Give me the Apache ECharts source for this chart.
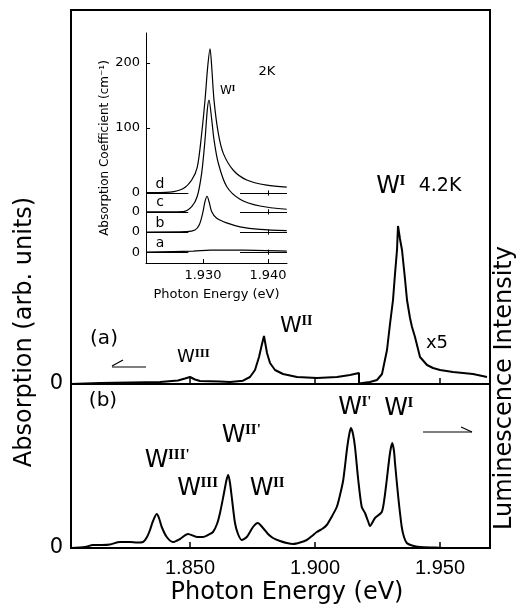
<!DOCTYPE html>
<html><head><meta charset="utf-8">
<script src="https://cdn.jsdelivr.net/npm/echarts@6/dist/echarts.min.js"></script>
<style>html,body{margin:0;padding:0;background:#fff}#c{width:520px;height:608px}</style>
</head><body><div id="c"></div>
<script>
// ---- data ----
// main x ticks
const mainTicks = [1.85, 1.90, 1.95];
// (a) absorption (arb. units), W^I part x5
const absE = [1.8024,1.814,1.826,1.838,1.8452,1.848,1.850,1.852,1.854,1.862,1.866,1.8712,1.874,1.876,1.8776,1.8788,1.8796,1.8808,1.882,1.884,1.8872,1.8928,1.9008,1.9088,1.914,1.9176,
  1.9176,1.922,1.9248,1.9268,1.9288,1.930,1.9312,1.932,1.9328,1.9332,1.934,1.9348,1.936,1.9368,1.938,1.9388,1.940,1.9412,1.942,1.9448,1.9472,1.950,1.9552,1.9592,1.9632,1.9688];
const absV = [0,1,1.5,2,3.5,5.5,7,4.5,3,2.5,2,3.3,7,14,27,40,48,31,21,14,10,7,6,7,9,11,
  0.5,2,4,10,34,60,84,110,134,158,145,134,105,84,66,57,47,35,27,19,16,14,12,11,10,7];
// (b) luminescence
const lumE = [1.8024,1.808,1.8112,1.8148,1.818,1.822,1.826,1.8288,1.8312,1.8328,1.834,1.8352,1.8367,1.8376,1.8387,1.8407,1.8432,1.846,1.8492,1.8528,1.8552,1.8572,1.8592,1.8608,1.862,1.8636,1.8646,1.8653,1.866,1.8667,1.868,1.8692,1.8707,1.8727,1.8752,1.8771,1.8792,1.8812,1.8832,1.886,1.8887,1.8913,1.894,1.8967,1.8988,1.9007,1.9028,1.9047,1.9064,1.9087,1.910,1.9113,1.9129,1.9138,1.9144,1.9152,1.916,1.9173,1.9187,1.920,1.9212,1.922,1.924,1.9267,1.9278,1.9287,1.930,1.9309,1.9316,1.932,1.9333,1.9347,1.9356,1.9367,1.9388,1.942,1.948,1.954,1.9696];
const lumV = [0,1,3,3,3.5,6,6,5.5,6,11,18,27,34,30,21,11,6,9,14,11,11,13,16,24,35,55,68,73,65,51,25,14,8,11,21,25,20,14,10,7,5,4,5.5,8,12,16,19,23,30,41,53,68,101,115,120,114,101,68,41,35,27,22,30,36,50,68,95,105,97,85,51,21,11,5,2.5,1,0.5,0,0];
// inset (2K), absorption coefficient (cm^-1), curves a-d with vertical offsets
const insetTicksX = [1.930, 1.940];
const insetTicksY = [100, 200];
const curveNames = ['a','b','c','d'];
const curveOffsets = [-91, -60, -29, 0];
const dE = [1.92123,1.92492,1.92697,1.92826,1.92912,1.92980,1.93031,1.93072,1.93108,1.93134,1.93169,1.93235,1.93312,1.93466,1.93672,1.93980,1.94288];
const dV = [0.5,1.5,7,20,40,92,143,194,222,194,143,92,61,35,20,12,9];
const cE = [1.92123,1.92697,1.92826,1.92912,1.92980,1.93031,1.93066,1.93092,1.93134,1.93169,1.93235,1.93364,1.93569,1.93877,1.94288];
const cV = [0,0.5,8,24,60,111,157,172,142,111,75,39,19.5,9,4];
const bE = [1.92123,1.92749,1.92877,1.92943,1.92995,1.93031,1.93062,1.93092,1.93134,1.93211,1.93364,1.93569,1.93877,1.94288];
const bV = [0,0.5,3,11,29,47,55,47,31,21,14,8,4,2];
const aE = [1.92123,1.92851,1.93108,1.93620,1.94288];
const aV = [0,1.5,3,3,1.5];
const zeroSegLeft = [1.92123, 1.92774];
const zeroSegRight = [1.93569, 1.94292];

// ---- chart ----
const chart = echarts.init(document.getElementById('c'), null, {renderer:'canvas'});
const FONT = 'DejaVu Sans';
const pairs = (E,V,off)=>E.map((e,i)=>[e, V[i]+(off||0)]);
const curves = {a:[aE,aV], b:[bE,bV], c:[cE,cV], d:[dE,dV]};

const insetSeries = curveNames.map((n,k)=>{
  const off = curveOffsets[k];
  return {
    type:'line', xAxisIndex:2, yAxisIndex:2, data:pairs(curves[n][0], curves[n][1], off),
    showSymbol:false, symbol:'none', smooth:0.3, lineStyle:{color:'#000', width:1.2}, silent:true,
    markLine:{silent:true, symbol:'none', label:{show:false}, lineStyle:{color:'#000', width:1, type:'solid'},
      data:[
        [{coord:[zeroSegLeft[0], off]},{coord:[zeroSegLeft[1], off]}],
        [{coord:[zeroSegRight[0], off]},{coord:[zeroSegRight[1], off]}],
        [{coord:[insetTicksX[1], off-4]},{coord:[insetTicksX[1], off+4]}]
      ]}
  };
});

function wLabel(cx, cy, sup, wSize, sSize){
  return [
    {type:'text', style:{x:cx, y:cy, text:'W', font:`${wSize}px "${FONT}"`, fill:'#000', textAlign:'center', textVerticalAlign:'middle', align:'center', verticalAlign:'middle'}},
    {type:'text', style:{x:cx + wSize*0.48, y:cy - wSize*0.55, text:sup, font:`bold ${sSize}px "Liberation Serif"`, fill:'#000', textAlign:'left', textVerticalAlign:'top', align:'left', verticalAlign:'top'}}
  ];
}
function txt(x,y,t,size,extra){
  return Object.assign({type:'text', style:Object.assign({x:x, y:y, text:t, font:`${size}px "${FONT}"`, fill:'#000', textAlign:'center', textVerticalAlign:'middle', align:'center', verticalAlign:'middle'}, extra||{})});
}
function poly(points, w){
  return {type:'polyline', shape:{points:points}, style:{stroke:'#000', lineWidth:w||1.5, fill:null}};
}

const graphics = [].concat(
  wLabel(388, 187, 'I', 24, 15),
  [txt(440, 186, '4.2K', 19)],
  wLabel(291, 326, 'II', 22, 14),
  wLabel(186, 357, 'III', 18, 13),
  [txt(104, 339, '(a)', 20), txt(437, 343, 'x5', 18), txt(103, 401, '(b)', 20)],
  [poly([[112,367],[146,367]],1.2), poly([[112,366],[123,360]],1.2)],
  wLabel(156.5, 461, "III'", 24, 15),
  wLabel(189, 489, 'III', 24, 15),
  wLabel(233.5, 436, "II'", 24, 15),
  wLabel(261.5, 489, 'II', 24, 15),
  wLabel(350, 408, "I'", 24, 15),
  wLabel(396, 409, 'I', 24, 15),
  [poly([[423,432],[472,432]],1.2), poly([[472,432],[461,427]],1.2)],
  // inset labels
  [txt(267, 72, '2K', 13)],
  wLabel(226, 91, 'I', 12, 9),
  curveNames.map((n,k)=>txt(160, 0, n, 14, {y: 193 - 0.65*curveOffsets[k] - 9})),
  // big axis names
  [{type:'text', rotation:Math.PI/2, x:25, y:332, style:{x:0, y:0, text:'Absorption (arb. units)', font:`24px "${FONT}"`, fill:'#000', textAlign:'center', textVerticalAlign:'middle', align:'center', verticalAlign:'middle'}},
   {type:'text', rotation:Math.PI/2, x:505, y:388, style:{x:0, y:0, text:'Luminescence Intensity', font:`24px "${FONT}"`, fill:'#000', textAlign:'center', textVerticalAlign:'middle', align:'center', verticalAlign:'middle'}},
   txt(287, 593, 'Photon Energy (eV)', 24)]
);

const tickStyle = {show:true, inside:true, length:6, lineStyle:{color:'#000', width:1.5}, customValues:mainTicks};
const option = {
  animation:false,
  backgroundColor:'#fff',
  grid:[
    {left:71, top:10, width:419, height:374, show:true, borderColor:'#000', borderWidth:2, backgroundColor:'transparent'},
    {left:71, top:384, width:419, height:164, show:true, borderColor:'#000', borderWidth:2, backgroundColor:'transparent'},
    {left:146, top:33, width:141, height:230, show:false}
  ],
  xAxis:[
    {gridIndex:0, type:'value', min:1.8024, max:1.970, axisLine:{show:false}, axisTick:tickStyle, axisLabel:{show:false}, splitLine:{show:false}},
    {gridIndex:1, type:'value', min:1.8024, max:1.970, axisLine:{show:false}, axisTick:tickStyle,
      axisLabel:{show:true, customValues:mainTicks, formatter:v=>v.toFixed(3), color:'#000', fontFamily:'Liberation Sans', fontSize:20, margin:10}, splitLine:{show:false}},
    {gridIndex:2, type:'value', min:1.92123, max:1.94292, axisLine:{show:true, onZero:false, lineStyle:{color:'#000', width:1}},
      axisTick:{show:true, inside:true, length:4, lineStyle:{color:'#000'}, customValues:insetTicksX},
      axisLabel:{show:true, customValues:insetTicksX, formatter:v=>v.toFixed(3), color:'#000', fontFamily:FONT, fontSize:13, margin:6},
      splitLine:{show:false}, name:'Photon Energy (eV)', nameLocation:'middle', nameGap:25, nameTextStyle:{color:'#000', fontFamily:FONT, fontSize:13}}
  ],
  yAxis:[
    {gridIndex:0, type:'value', min:0, max:374, axisLine:{show:false}, axisTick:{show:false}, splitLine:{show:false},
      axisLabel:{show:true, customValues:[0], color:'#000', fontFamily:FONT, fontSize:21, margin:8}},
    {gridIndex:1, type:'value', min:0, max:164, axisLine:{show:false}, axisTick:{show:false}, splitLine:{show:false},
      axisLabel:{show:true, customValues:[0], color:'#000', fontFamily:FONT, fontSize:21, margin:8}},
    {gridIndex:2, type:'value', min:-107.7, max:246.2, axisLine:{show:true, onZero:false, lineStyle:{color:'#000', width:1}},
      axisTick:{show:true, inside:true, length:4, lineStyle:{color:'#000'}, customValues:insetTicksY},
      axisLabel:{show:true, customValues:curveOffsets.concat(insetTicksY), formatter:v=>(v>=100? String(v) : '0'), color:'#000', fontFamily:FONT, fontSize:13, margin:6},
      splitLine:{show:false}, name:'Absorption Coefficient (cm\u207B\u00B9)', nameLocation:'middle', nameGap:34, nameRotate:90, nameTextStyle:{color:'#000', fontFamily:FONT, fontSize:12}}
  ],
  series:[
    {type:'line', xAxisIndex:0, yAxisIndex:0, data:pairs(absE, absV), showSymbol:false, symbol:'none', smooth:false, lineStyle:{color:'#000', width:2}, silent:true},
    {type:'line', xAxisIndex:1, yAxisIndex:1, data:pairs(lumE, lumV), showSymbol:false, symbol:'none', smooth:0.25, lineStyle:{color:'#000', width:2}, silent:true}
  ].concat(insetSeries),
  graphic:graphics
};
chart.setOption(option);
</script></body></html>
